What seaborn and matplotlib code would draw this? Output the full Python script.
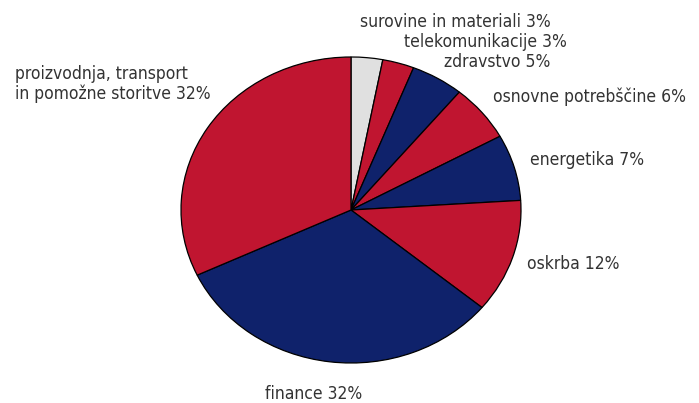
import matplotlib
matplotlib.use('Agg')
import matplotlib.pyplot as plt
import seaborn as sns

# Sector shares (clockwise from 12 o'clock)
sectors = ['surovine in materiali', 'telekomunikacije', 'zdravstvo',
           'osnovne potrebščine', 'energetika', 'oskrba', 'finance',
           'proizvodnja, transport\nin pomožne storitve']
shares = [3, 3, 5, 6, 7, 12, 32, 32]
slice_colors = ['#e0e0e0', '#c01530', '#0f226b', '#c01530', '#0f226b',
                '#c01530', '#0f226b', '#c01530']

sns.set_theme(style='white')
plt.rcParams['font.family'] = ['DejaVu Sans']

fig = plt.figure(figsize=(6.99, 4.03), dpi=100)
W, H = 699, 403
ax = fig.add_axes([181 / W, 40 / H, 340 / W, 306 / H])
ax.pie(shares, colors=sns.color_palette(slice_colors), startangle=90,
       counterclock=False,
       wedgeprops=dict(edgecolor='black', linewidth=0.9))
ax.set_aspect('auto')
ax.set_xlim(-1, 1)
ax.set_ylim(-1, 1)
ax.axis('off')

# label placement in pixel coordinates: (x, y, ha)
label_pos = [(551, 22, 'right'), (567, 42, 'right'), (550, 62, 'right'),
             (493, 97, 'left'), (530, 160, 'left'), (527, 264, 'left'),
             (265, 394, 'left'), (15, 84, 'left')]
for name, val, (x, y, ha) in zip(sectors, shares, label_pos):
    fig.text(x / W, 1 - y / H, f'{name} {val}%', ha=ha, va='center',
             fontsize=12.5, fontstretch='condensed', color='#333333',
             linespacing=1.15)

fig.savefig('out.png', dpi=100)
